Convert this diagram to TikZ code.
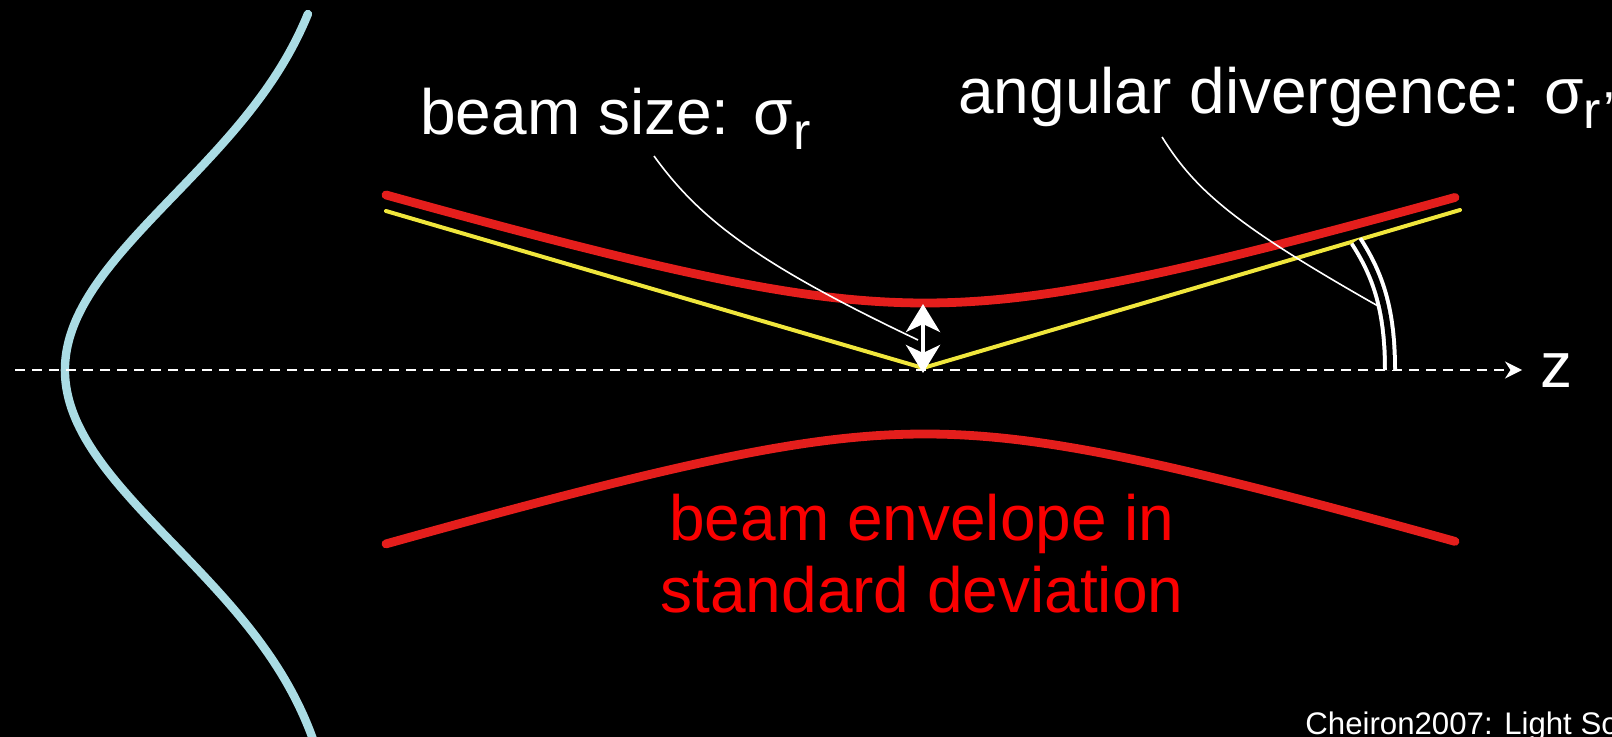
\documentclass[tikz,border=0pt]{standalone}
\usepackage{fontspec}
\setmainfont{Liberation Sans}
\usetikzlibrary{arrows.meta}
\definecolor{envred}{RGB}{228,30,28}
\definecolor{txtred}{RGB}{250,0,0}
\definecolor{asym}{RGB}{240,230,60}
\definecolor{gauss}{RGB}{170,220,228}
\tikzset{
  lbl/.style={text=white, font=\fontsize{32}{38}\selectfont, inner sep=0pt},
  ptr/.style={white, line width=0.8pt},
  envline/.style={envred, line width=4.4pt, line cap=round},
  axisline/.style={white, line width=1pt, dash pattern=on 5pt off 3.5pt, -{Stealth[length=8.5pt,width=8.5pt]}},
  sizearrow/.style={white, line width=2pt, {Stealth[length=14pt,width=17pt,inset=4pt]}-{Stealth[length=14pt,width=17pt,inset=4pt]}},
  anglemark/.style={white, line width=2pt, double=black, double distance=3pt}
}
\begin{document}
\begin{tikzpicture}[x=0.5pt,y=-0.5pt]
\fill[black] (0,0) rectangle (1612,737);
\useasboundingbox (0,0) rectangle (1612,737);
\clip (0,0) rectangle (1612,737);

% gaussian profile
\draw[gauss, line width=4.2pt, line cap=round] plot[domain=-356:375, samples=160, smooth]
  ({65+278*(1-exp(-(\x/175)*(\x/175)/2))},{370+\x});

% beam envelope
\draw[envline] plot[domain=-539:530, samples=120, smooth]
  ({925+\x},{370-67*sqrt(1+(0.3*\x/67)^2)});
\draw[envline] plot[domain=-539:530, samples=120, smooth]
  ({925+\x},{370+64*sqrt(1+(0.3*\x/64)^2)});

% asymptotes
\coordinate (yl) at (386,211);
\coordinate (vtx) at (923,368);
\coordinate (yr) at (1460,210);
\draw[asym, line width=2pt, line cap=round, line join=round] (yl) -- (vtx) -- (yr);

% axis
\coordinate (axL) at (15,370);
\coordinate (axR) at (1522,370);
\draw[axisline] (axL) -- (axR);
\node[lbl, anchor=base] (z) at (1556,388) {z};

% beam size arrow
\coordinate (waistTop) at (923,304);
\coordinate (waistBot) at (923,373);
\draw[sizearrow] (waistTop) -- (waistBot);

% angle mark
\coordinate (angB) at (1390,370);
\coordinate (angT) at (1356,241);
\draw[anglemark] (angB) .. controls (1390,310) and (1378,275) .. (angT);

% labels
\node[lbl, anchor=base west] (bs) at (420,135)
  {beam size: σ\raisebox{-7.5pt}{\fontsize{26}{26}\selectfont r}};
\node[lbl, anchor=base west] (ad) at (958,114)
  {angular divergence: σ\raisebox{-7.5pt}{\fontsize{26}{26}\selectfont r’}};

% pointers
\coordinate (bsp) at (654,156);
\coordinate (bse) at (918,340);
\draw[ptr] (bsp) .. controls (700,220) and (760,265) .. (bse);
\coordinate (adp) at (1162,137);
\coordinate (ade) at (1378,306);
\draw[ptr] (adp) .. controls (1195,190) and (1235,225) .. (ade);

% envelope label
\node[text=txtred, font=\fontsize{32}{36}\selectfont, align=center, inner sep=0pt, anchor=base] (env) at (922,612)
  {beam envelope in\\standard deviation};

% credit
\node[text=white, font=\fontsize{15.6}{18}\selectfont, inner sep=0pt, anchor=base west] (cred) at (1305,734)
  {Cheiron2007: Light Source};
\end{tikzpicture}
\end{document}
